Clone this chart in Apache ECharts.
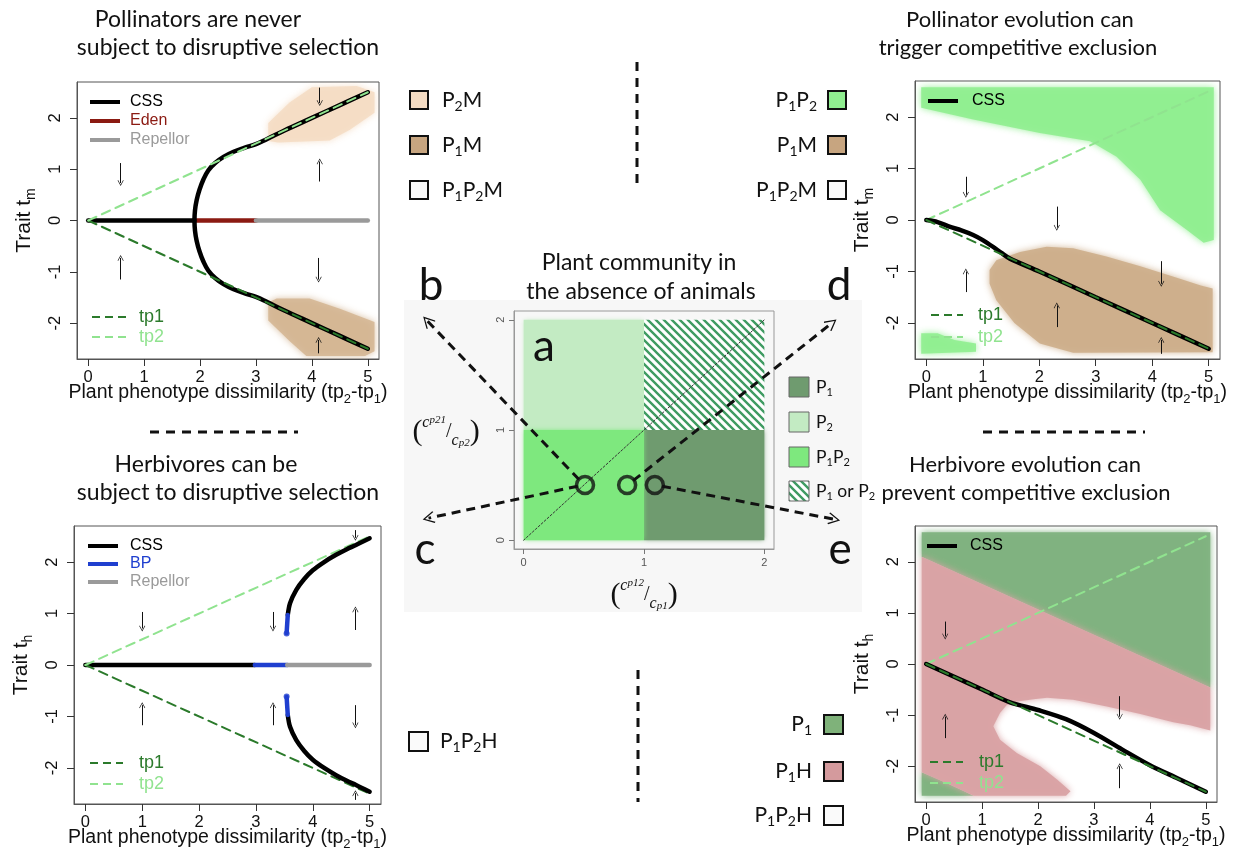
<!DOCTYPE html>
<html><head><meta charset="utf-8">
<script src="https://cdn.jsdelivr.net/npm/echarts@6/dist/echarts.min.js"></script>
<style>html,body{margin:0;padding:0;background:#fff}#main{width:1240px;height:859px}</style>
</head><body><div id="main"></div>
<script>
// ---------------- DATA ----------------
const xTicks = [0, 1, 2, 3, 4, 5];
const yTicks = [-2, -1, 0, 1, 2];
const aTicks = [0, 1, 2];
const tp1Line = [[0, 0], [5, -2.5]];
const tp2Line = [[0, 0], [5, 2.5]];

// panel b (pollinators, ecological)
const bCssFlat = [[0, 0], [1.9, 0]];
const bEden = [[1.9, 0], [3.0, 0]];
const bRepellor = [[3.0, 0], [5, 0]];
const bCssUpper = [[1.9,0],[1.91,0.2],[1.94,0.4],[1.99,0.6],[2.06,0.8],[2.15,0.98],[2.27,1.12],[2.42,1.24],[2.6,1.34],[2.8,1.42],[3.0,1.49],[3.2,1.59],[3.5,1.75],[4,2.0],[4.5,2.25],[5,2.5]];
const bCssLower = [[1.9,0],[1.91,-0.2],[1.94,-0.4],[1.99,-0.6],[2.06,-0.8],[2.15,-0.98],[2.27,-1.12],[2.42,-1.24],[2.6,-1.34],[2.8,-1.42],[3.0,-1.49],[3.2,-1.59],[3.5,-1.75],[4,-2.0],[4.5,-2.25],[5,-2.5]];
const bP2M = [[3.22,1.55],[3.22,1.9],[3.6,2.3],[4.0,2.6],[4.8,2.62],[5.12,2.5],[5.12,2.1],[4.68,1.77],[4.32,1.56],[3.4,1.52]];
const bP1M = [[3.22,-1.6],[3.37,-1.52],[3.96,-1.52],[4.5,-1.72],[5.12,-1.98],[5.12,-2.55],[4.95,-2.64],[3.9,-2.64],[3.6,-2.35],[3.22,-1.95]];
const bArrows = [[0.58,1.12,0.73],[0.58,-1.15,-0.73],[4.14,2.59,2.29],[4.14,0.76,1.15],[4.12,-0.73,-1.15],[4.12,-2.59,-2.33]];

// panel c (herbivores, ecological)
const cCssFlat = [[0, 0], [2.98, 0]];
const cBP = [[2.98, 0], [3.55, 0]];
const cRepellor = [[3.55, 0], [5, 0]];
const cBPUpper = [[3.54,0.62],[3.55,0.8],[3.56,0.97]];
const cBPLower = [[3.54,-0.62],[3.55,-0.8],[3.56,-0.97]];
const cBPDots = [[3.54,0.61],[3.54,-0.61]];
const cCssUpper = [[3.56,0.97],[3.6,1.2],[3.71,1.46],[3.85,1.67],[4.0,1.84],[4.2,2.0],[4.41,2.14],[4.6,2.25],[4.76,2.33],[5.0,2.46]];
const cCssLower = [[3.56,-0.97],[3.6,-1.2],[3.71,-1.46],[3.85,-1.67],[4.0,-1.84],[4.2,-2.0],[4.41,-2.14],[4.6,-2.25],[4.76,-2.33],[5.0,-2.46]];
const cArrows = [[1.0,1.03,0.71],[1.0,-1.17,-0.78],[3.3,1.03,0.71],[3.3,-1.17,-0.78],[4.75,0.68,1.08],[4.75,-0.78,-1.17],[4.75,2.62,2.47],[4.75,-2.62,-2.49]];

// panel d (pollinator evolution)
const dP1P2 = [[-0.09,2.58],[5.09,2.58],[5.09,-0.39],[4.91,-0.44],[4.62,-0.2],[4.14,0.19],[3.79,0.78],[3.37,1.23],[2.9,1.53],[2.01,1.69],[0.83,1.95],[-0.09,2.18]];
const dP1P2Blob = [[-0.09,-2.2],[0.2,-2.2],[0.5,-2.33],[0.88,-2.4],[0.88,-2.56],[-0.09,-2.6]];
const dP1M = [[1.12,-0.97],[1.24,-0.78],[1.66,-0.62],[2.13,-0.52],[2.6,-0.55],[3.19,-0.71],[3.79,-0.9],[4.38,-1.1],[4.86,-1.27],[5.07,-1.33],[5.07,-2.57],[2.6,-2.58],[2.01,-2.4],[1.56,-2.0],[1.24,-1.56],[1.12,-1.24]];
const dCss = [[0,0],[0.2,-0.04],[0.41,-0.13],[0.62,-0.2],[0.83,-0.29],[1.0,-0.39],[1.18,-0.52],[1.33,-0.64],[1.48,-0.75],[2,-1.0],[3,-1.5],[4,-2.0],[5,-2.5]];
const dArrows = [[0.70,0.84,0.49],[0.70,-1.4,-1.0],[2.31,0.26,-0.15],[2.31,-2.08,-1.66],[4.16,-0.8,-1.24],[4.16,-2.6,-2.33]];

// panel e (herbivore evolution)
const eP1 = [[-0.08,2.58],[5.08,2.58],[5.08,-0.46],[-0.08,2.1]];
const eP1Blob = [[-0.08,-2.12],[0.4,-2.35],[0.85,-2.58],[-0.08,-2.58]];
const eP1H = [[-0.08,2.1],[5.08,-0.46],[5.08,-1.3],[4.72,-1.2],[4.42,-1.14],[3.83,-0.98],[3.23,-0.83],[2.63,-0.7],[2.16,-0.66],[1.92,-0.69],[1.6,-0.74],[1.44,-0.8],[1.32,-0.96],[1.2,-1.22],[1.32,-1.48],[1.62,-1.74],[2.04,-2.0],[2.34,-2.26],[2.58,-2.49],[2.5,-2.58],[0.85,-2.58],[0.4,-2.35],[-0.08,-2.12]];
const eCss = [[0,0],[0.5,-0.25],[1,-0.5],[1.5,-0.75],[2,-0.9],[2.5,-1.08],[3,-1.35],[3.5,-1.67],[4,-1.98],[4.5,-2.24],[5,-2.5]];
const eArrows = [[0.34,0.83,0.54],[0.34,-1.45,-1.03],[3.46,-0.63,-1.03],[3.46,-2.43,-2.0]];

// panel a (plant community)
const aRegions = [[1,0,2,1],[0,1,1,2],[0,0,1,1],[1,1,2,2]]; // P1, P2, P1P2, P1 or P2
const aDiag = [[0,0],[2,2]];
const aPoints = [[0.51,0.5],[0.86,0.5],[1.09,0.5]];
const aArrows = [[[0.46,0.55],[-0.80,1.99]],[[0.45,0.49],[-0.79,0.2]],[[0.91,0.54],[2.56,1.97]],[[1.15,0.49],[2.58,0.19]]];

// texts
const titles = [
  ['Pollinators are never',198,20,23],['subject to disruptive selection',228,48,23],
  ['Herbivores can be',206,465,23],['subject to disruptive selection',228,493,23],
  ['Pollinator evolution can',1020,20,22],['trigger competitive exclusion',1018,48,22],
  ['Herbivore evolution can',1025,465,22],['prevent competitive exclusion',1026,493,22],
  ['Plant community in',639,263,23],['the absence of animals',641,292,23]
];
const bLegendLabels = ['P_2M','P_1M','P_1P_2M'];
const dLegendLabels = ['P_1P_2','P_1M','P_1P_2M'];
const cLegendLabels = ['P_1P_2H'];
const eLegendLabels = ['P_1','P_1H','P_1P_2H'];
const aLegendLabels = ['P_1','P_2','P_1P_2','P_1 or P_2'];
const xName = 'Plant phenotype dissimilarity (tp_2-tp_1)';

// ---------------- STYLE ----------------
const rFont = 'Liberation Sans';
const sFont = 'Lato';
const C = {
  css:'#000', eden:'#8b1a12', rep:'#9a9a9a', bp:'#1f3fcf', tp1:'#2b7a2b', tp2:'#90e38f',
  p2m:'#f4dcc3', p1m:'#d4b592', p1p2:'#90ee90', p1:'#80b27f', p1h:'#d9a2a4',
  aP1:'#6f9b6f', aP2:'#c3ebc3', aP1P2:'#7ee87e', stripe:'#3f9b62'
};
const pc = document.createElement('canvas'); pc.width = 8; pc.height = 8;
(function(){const c=pc.getContext('2d');c.fillStyle='#fff';c.fillRect(0,0,8,8);c.strokeStyle=C.stripe;c.lineWidth=2.4;c.beginPath();
c.moveTo(-2,-2);c.lineTo(10,10);c.moveTo(-2,6);c.lineTo(2,10);c.moveTo(6,-2);c.lineTo(10,2);c.stroke();})();
const hatch = {image: pc, repeat: 'repeat'};
const aFills = [C.aP1, C.aP2, C.aP1P2, hatch];

function richify(str){let out='',buf='';const f=()=>{if(buf){out+='{n|'+buf+'}';buf='';}};
  for(let i=0;i<str.length;i++){if(str[i]==='_'){f();out+='{s|'+str[i+1]+'}';i++;}else buf+=str[i];}f();return out;}
function axisRich(size){return {n:{fontSize:size,fontFamily:rFont,color:'#111',lineHeight:size+6},
  s:{fontSize:Math.round(size*0.68),fontFamily:rFont,color:'#111',verticalAlign:'bottom',lineHeight:Math.round(size*0.68)}};}
function gText(str,x,y,size,family,color,align,z){
  return {type:'text',x,y,z:z||100,silent:true,style:{text:richify(str),align:align||'center',verticalAlign:'middle',textAlign:align||'center',textVerticalAlign:'middle',
    rich:{n:{fontSize:size,fontFamily:family,fill:color,lineHeight:Math.round(size*1.25)},
          s:{fontSize:Math.round(size*0.65),fontFamily:family,fill:color,verticalAlign:'bottom',lineHeight:Math.round(size*0.65)}}}};
}
function gLine(x1,y1,x2,y2,color,width,dash){return {type:'line',z:100,silent:true,shape:{x1,y1,x2,y2},style:{stroke:color,lineWidth:width,lineDash:dash||null}};}
function gRect(x,y,w,h,fill,stroke,lw,z){return {type:'rect',z:z||100,silent:true,shape:{x,y,width:w,height:h},style:{fill,stroke,lineWidth:lw}};}

const grids = [
  {left:77,top:82,width:302,height:277},
  {left:74,top:526,width:307,height:278},
  {left:915,top:81,width:305,height:278},
  {left:915,top:526,width:302,height:276},
  {left:514,top:311,width:260,height:238}
].map(g=>Object.assign({show:true,borderColor:'#555',borderWidth:1,backgroundColor:'transparent',containLabel:false,outerBoundsMode:'none'},g));
grids[4].borderColor = '#999';

function rX(g){return {gridIndex:g,type:'value',min:-0.2,max:5.2,
  axisLine:{show:true,onZero:false,lineStyle:{color:'#555',width:1}},
  axisTick:{show:true,length:7,customValues:xTicks,lineStyle:{color:'#333',width:1}},
  axisLabel:{show:true,customValues:xTicks,fontSize:16.5,fontFamily:rFont,color:'#111',margin:10},
  splitLine:{show:false},name:richify(xName),nameLocation:'middle',nameGap:21,nameMoveOverlap:false,
  nameTextStyle:{rich:axisRich(19.5)}};}
function rY(g,sub){return {gridIndex:g,type:'value',min:-2.7,max:2.7,
  axisLine:{show:true,onZero:false,lineStyle:{color:'#555',width:1}},
  axisTick:{show:true,length:7,customValues:yTicks,lineStyle:{color:'#333',width:1}},
  axisLabel:{show:true,customValues:yTicks,fontSize:16.5,fontFamily:rFont,color:'#111',margin:13,rotate:90},
  splitLine:{show:false},name:richify('Trait t_'+sub),nameLocation:'middle',nameGap:39,nameRotate:90,nameMoveOverlap:false,
  nameTextStyle:{rich:axisRich(21)}};}
const aX = {gridIndex:4,type:'value',min:-0.08,max:2.08,axisLine:{show:true,onZero:false,lineStyle:{color:'#999'}},
  axisTick:{show:true,length:5,customValues:aTicks,lineStyle:{color:'#777'}},
  axisLabel:{customValues:aTicks,fontSize:11,fontFamily:rFont,color:'#555',margin:8},splitLine:{show:false}};
const aY = {gridIndex:4,type:'value',min:-0.08,max:2.08,axisLine:{show:true,onZero:false,lineStyle:{color:'#999'}},
  axisTick:{show:true,length:5,customValues:aTicks,lineStyle:{color:'#777'}},
  axisLabel:{customValues:aTicks,fontSize:11,fontFamily:rFont,color:'#555',margin:8,rotate:90},splitLine:{show:false}};

function poly(g,pts,color,op){return {type:'custom',coordinateSystem:'cartesian2d',xAxisIndex:g,yAxisIndex:g,silent:true,clip:true,z:1,
  data:[pts[0]],renderItem:(p,api)=>({type:'polygon',shape:{points:pts.map(q=>api.coord(q))},
  style:{fill:color,opacity:op||0.9,shadowBlur:7,shadowColor:color}})};}
function line(g,data,color,width,type,smooth,z){return {type:'line',xAxisIndex:g,yAxisIndex:g,data,symbol:'none',showSymbol:false,
  smooth:smooth||false,silent:true,z:z||3,lineStyle:{color,width,type:type||'solid',cap:'round'}};}
const chevron = 'path://M0,0 L10,14 L8.4,15.2 L0,3.2 L-8.4,15.2 L-10,14 Z';
function arrows(g,list){return {type:'lines',coordinateSystem:'cartesian2d',xAxisIndex:g,yAxisIndex:g,silent:true,clip:false,z:4,
  symbol:['none',chevron],symbolSize:[7,6],lineStyle:{color:'#111',width:1,opacity:1,curveness:0},
  data:list.map(a=>({coords:[[a[0],a[1]],[a[0],a[2]]]}))};}

const series = [
  // b
  poly(0,bP2M,C.p2m,0.85), poly(0,bP1M,C.p1m,0.85),
  line(0,bCssFlat,C.css,4.5), line(0,bEden,C.eden,4.5), line(0,bRepellor,C.rep,4.5),
  line(0,bCssUpper,C.css,4.5,'solid',0.4), line(0,bCssLower,C.css,4.5,'solid',0.4),
  line(0,tp1Line,C.tp1,2,[9,6],false,5), line(0,tp2Line,C.tp2,2,[9,6],false,5),
  arrows(0,bArrows),
  // c
  line(1,cCssFlat,C.css,4.5), line(1,cBP,C.bp,4.5), line(1,cRepellor,C.rep,4.5),
  line(1,tp1Line,C.tp1,2,[9,6]), line(1,tp2Line,C.tp2,2,[9,6]),
  line(1,cCssUpper,C.css,4.5,'solid',0.3,5), line(1,cCssLower,C.css,4.5,'solid',0.3,5),
  line(1,cBPUpper,C.bp,4.5,'solid',false,5), line(1,cBPLower,C.bp,4.5,'solid',false,5),
  {type:'scatter',xAxisIndex:1,yAxisIndex:1,data:cBPDots,symbolSize:6,itemStyle:{color:C.bp},silent:true,z:5},
  arrows(1,cArrows),
  // d
  poly(2,dP1P2,C.p1p2,0.9), poly(2,dP1P2Blob,C.p1p2,0.9), poly(2,dP1M,'#cdae8b',0.9),
  line(2,tp2Line,C.tp2,2,[9,6]), line(2,dCss,C.css,4.5,'solid',0.3,4), line(2,tp1Line,C.tp1,2,[9,6],false,5),
  arrows(2,dArrows),
  // e
  poly(3,eP1,C.p1,0.95), poly(3,eP1Blob,C.p1,0.95), poly(3,eP1H,C.p1h,0.95),
  line(3,tp2Line,C.tp2,2,[9,6]), line(3,eCss,C.css,4.5,'solid',0.3,4), line(3,tp1Line,C.tp1,2,[9,6],false,5),
  arrows(3,eArrows),
  // a
  {type:'custom',coordinateSystem:'cartesian2d',xAxisIndex:4,yAxisIndex:4,silent:true,clip:true,z:1,
   dimensions:['x0','y0','x1','y1'],encode:{x:[0,2],y:[1,3]},data:aRegions,
   renderItem:(p,api)=>{const a=api.coord([api.value(0),api.value(3)]),b=api.coord([api.value(2),api.value(1)]);
     const f=aFills[p.dataIndex];const blur=(typeof f==='string');
     return {type:'rect',shape:{x:a[0],y:a[1],width:b[0]-a[0],height:b[1]-a[1]},style:{fill:f,shadowBlur:blur?5:0,shadowColor:blur?f:'transparent'}};}},
  line(4,aDiag,'#333',1,[2,2]),
  {type:'lines',coordinateSystem:'cartesian2d',xAxisIndex:4,yAxisIndex:4,silent:true,clip:false,z:6,
   symbol:['none',chevron],symbolSize:[16,12],lineStyle:{color:'#111',width:3,type:[9,6],opacity:1,curveness:0},
   data:aArrows.map(a=>({coords:a}))},
  {type:'scatter',xAxisIndex:4,yAxisIndex:4,data:aPoints,symbolSize:17,silent:true,z:7,
   itemStyle:{color:'rgba(0,0,0,0)',borderColor:'#111',borderWidth:3.5}}
];

// ---------------- GRAPHIC (texts, keys, separators) ----------------
const gr = [];
gr.push(gRect(404,300,458,312,'#f7f7f7',null,0,-10));
titles.forEach(t=>gr.push(gText(t[0],t[1],t[2],t[3],sFont,'#111','center')));
[['b',431,286],['d',839,286],['c',425,550],['e',840,550],['a',544,347]].forEach(t=>gr.push(gText(t[0],t[1],t[2],44,sFont,'#111','center')));
// side keys
const keyYs = [100,145,190];
const bKeyFills = [C.p2m,'#c7a580','#fafafa'];
const dKeyFills = [C.p1p2,'#c7a580','#fafafa'];
bLegendLabels.forEach((l,i)=>{gr.push(gRect(410,keyYs[i]-9,18,18,bKeyFills[i],'#111',2));gr.push(gText(l,442,keyYs[i],21,sFont,'#111','left'));});
dLegendLabels.forEach((l,i)=>{gr.push(gRect(828,keyYs[i]-9,18,18,dKeyFills[i],'#111',2));gr.push(gText(l,817,keyYs[i],21,sFont,'#111','right'));});
cLegendLabels.forEach((l,i)=>{gr.push(gRect(409,732,19,19,'#fafafa','#111',2));gr.push(gText(l,440,741,21,sFont,'#111','left'));});
const eKeyYs = [724,771,815];
const eKeyFills = ['#7fb27a','#d49a9d','#fafafa'];
eLegendLabels.forEach((l,i)=>{gr.push(gRect(824,eKeyYs[i]-9,19,19,eKeyFills[i],'#111',2));gr.push(gText(l,812,eKeyYs[i],21,sFont,'#111','right'));});
// panel a keys
const aKeyYs = [387,422,457,491];
const aKeyFills = [C.aP1,C.aP2,C.aP1P2,hatch];
aLegendLabels.forEach((l,i)=>{gr.push(gRect(789,aKeyYs[i]-10,20,20,aKeyFills[i],'#666',1));gr.push(gText(l,816,aKeyYs[i],17.5,sFont,'#111','left'));});
// panel a axis titles (math)
function mathLabel(x,y,num,den){
  return {type:'text',x,y,z:100,silent:true,style:{text:'{p|(}{c|c}{cs|'+num+'}{sl|/}{d|c}{ds|'+den+'}{p|)}',align:'center',verticalAlign:'middle',textAlign:'center',textVerticalAlign:'middle',
    rich:{p:{fontSize:30,fontFamily:'Liberation Serif',fill:'#111',lineHeight:34},
          c:{fontSize:16,fontFamily:'Liberation Serif',fontStyle:'italic',fill:'#111',verticalAlign:'top',lineHeight:18},
          cs:{fontSize:11,fontFamily:'Liberation Serif',fontStyle:'italic',fill:'#111',verticalAlign:'top',lineHeight:22},
          sl:{fontSize:20,fontFamily:'Liberation Serif',fill:'#111',lineHeight:30},
          d:{fontSize:16,fontFamily:'Liberation Serif',fontStyle:'italic',fill:'#111',verticalAlign:'bottom',lineHeight:22},
          ds:{fontSize:11,fontFamily:'Liberation Serif',fontStyle:'italic',fill:'#111',verticalAlign:'bottom',lineHeight:16}}}};
}
gr.push(mathLabel(644,595,'p12','p1'));
gr.push(mathLabel(446,432,'p21','p2'));
// dashed separators
gr.push(gLine(637,62,637,190,'#111',3,[9,7]));
gr.push(gLine(638,670,638,802,'#111',3,[9,7]));
gr.push(gLine(150,432,298,432,'#111',3,[9,7]));
gr.push(gLine(983,432,1145,432,'#111',3,[9,7]));
// in-plot legends
function plotKey(x1,x2,y,color,w,dash,label,tx,tsize){gr.push(gLine(x1,y,x2,y,color,w,dash));gr.push(gText(label,tx,y,tsize,rFont,color,'left'));}
plotKey(90,120,102,C.css,4,null,'CSS',130,16); plotKey(90,120,121,C.eden,4,null,'Eden',130,16); plotKey(90,120,140,C.rep,4,null,'Repellor',130,16);
plotKey(92,126,317,C.tp1,2,[8,5],'tp1',139,18); plotKey(92,126,337,C.tp2,2,[8,5],'tp2',139,18);
plotKey(88,118,546,C.css,4,null,'CSS',130,16); plotKey(88,118,564,C.bp,4,null,'BP',130,16); plotKey(88,118,582,C.rep,4,null,'Repellor',130,16);
plotKey(90,123,763,C.tp1,2,[8,5],'tp1',139,18); plotKey(90,123,784,C.tp2,2,[8,5],'tp2',139,18);
plotKey(928,958,101,C.css,4,null,'CSS',972,16);
plotKey(931,963,315,C.tp1,2,[8,5],'tp1',978,18); plotKey(931,963,337,C.tp2,2,[8,5],'tp2',978,18);
plotKey(927,957,546,C.css,4,null,'CSS',970,16);
plotKey(930,963,762,C.tp1,2,[8,5],'tp1',979,18); plotKey(930,963,783,C.tp2,2,[8,5],'tp2',979,18);

const option = {
  animation:false, backgroundColor:'#fff', textStyle:{fontFamily:rFont},
  grid:grids,
  xAxis:[rX(0),rX(1),rX(2),rX(3),aX],
  yAxis:[rY(0,'m'),rY(1,'h'),rY(2,'m'),rY(3,'h'),aY],
  series, graphic:{elements:gr}
};
const chart = echarts.init(document.getElementById('main'), null, {renderer:'canvas'});
chart.setOption(option);
</script></body></html>
